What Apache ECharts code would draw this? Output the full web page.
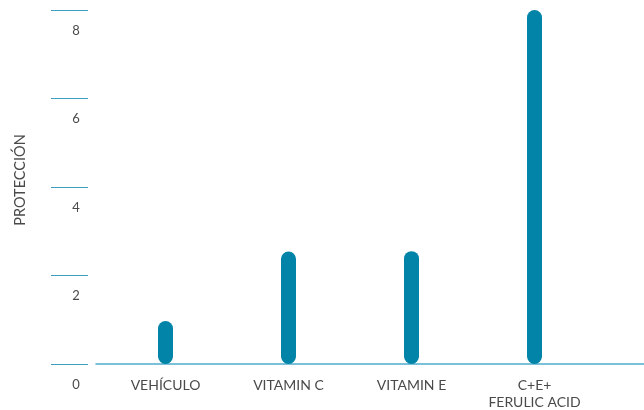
<!DOCTYPE html>
<html>
<head>
<meta charset="utf-8">
<script src="https://cdn.jsdelivr.net/npm/echarts@6/dist/echarts.min.js"></script>
<style>
  html, body { margin: 0; padding: 0; background: #fff; }
  #main { width: 644px; height: 410px; }
</style>
</head>
<body>
<div id="main"></div>
<script>
// data
var categories = ['VEHÍCULO', 'VITAMIN C', 'VITAMIN E', 'C+E+\nFERULIC ACID'];
var protection = [0.97, 2.54, 2.55, 8.0];
var yTicks = [0, 2, 4, 6, 8];

var myChart = echarts.init(document.getElementById('main'));

var option = {
  animation: false,
  textStyle: { fontFamily: 'Lato' },
  grid: [
    { left: 104, right: 48, top: 10, bottom: 46, outerBoundsMode: 'none', containLabel: false },
    { left: 96, right: 0, top: 10, bottom: 46, outerBoundsMode: 'none', containLabel: false }   // only for the long base line
  ],
  xAxis: [{
    type: 'category',
    data: categories,
    axisLine: { show: false },
    axisTick: { show: false },
    axisLabel: {
      color: '#4a4a4a', fontSize: 14, margin: 13, lineHeight: 17, fontFamily: 'Lato'
    }
  }, {
    type: 'value',
    gridIndex: 1,
    min: 0, max: 1,
    axisLine: { show: true, lineStyle: { color: '#4faccb', width: 1.5 } },
    axisTick: { show: false },
    axisLabel: { show: false },
    splitLine: { show: false }
  }],
  yAxis: [{
    type: 'value',
    min: yTicks[0],
    max: yTicks[yTicks.length - 1],
    interval: 2,
    offset: 16,
    name: 'PROTECCIÓN',
    nameLocation: 'middle',
    nameGap: 60,
    nameTextStyle: { color: '#4a4a4a', fontSize: 14.5, fontFamily: 'Lato', padding: [0, 0, 0, 14] },
    axisLine: { show: false },
    axisTick: { show: true, length: 37, lineStyle: { color: '#3f9fbe', width: 1 } },
    axisLabel: {
      color: '#4a4a4a', fontSize: 13, margin: 12, align: 'center',
      verticalAlign: 'top', padding: [14, 0, 0, 0]
    },
    splitLine: { show: false }
  }, {
    type: 'value',
    gridIndex: 1,
    min: 0, max: 1,
    show: false
  }],
  series: [{
    type: 'bar',
    data: protection,
    barWidth: 15,
    itemStyle: { color: '#0184a8', borderRadius: 7.5 }
  }]
};

myChart.setOption(option);
</script>
</body>
</html>
